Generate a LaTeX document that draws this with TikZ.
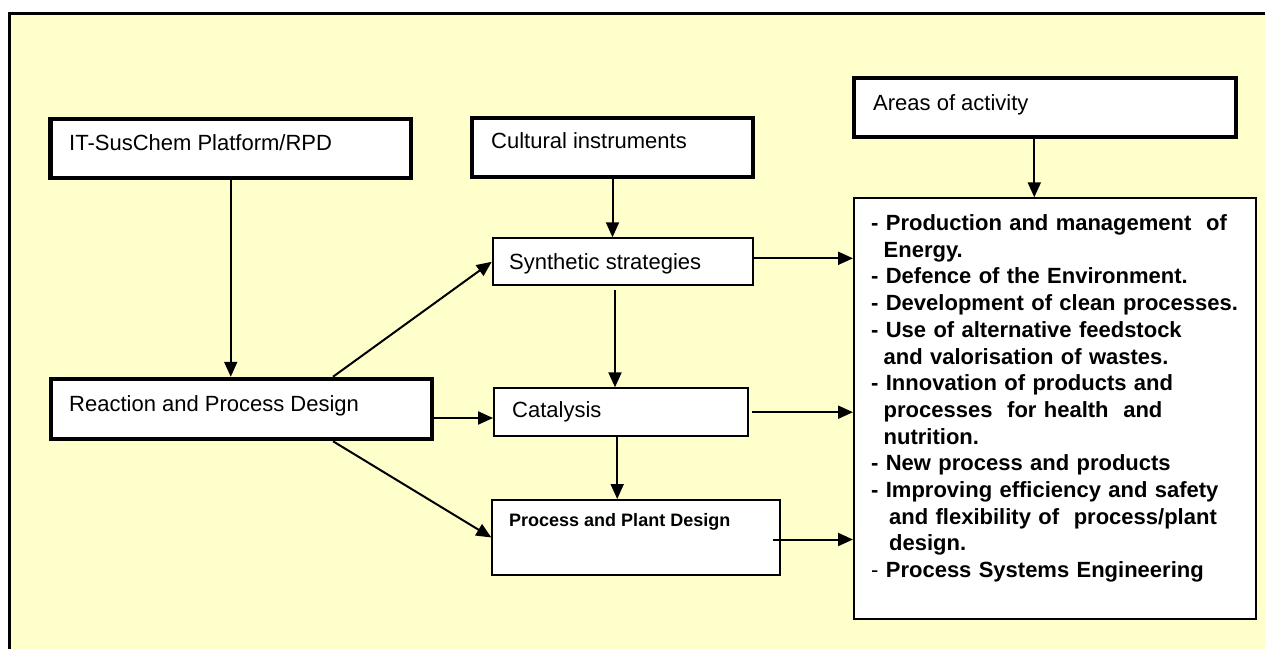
\documentclass[tikz,border=0pt]{standalone}
\usepackage{fontspec}
\setmainfont{Liberation Sans}
\usetikzlibrary{arrows.meta}
\definecolor{paper}{HTML}{FFFFCC}
\begin{document}
\begin{tikzpicture}[x=1pt,y=-1pt,
  heavybox/.style={draw=black, fill=white, line width=4.5pt, inner sep=0pt},
  lightbox/.style={draw=black, fill=white, line width=2pt, inner sep=0pt},
  caption/.style={anchor=base west, inner sep=0pt, font=\fontsize{22}{26}\selectfont},
  link/.style={line width=2pt, -{Triangle[length=15pt,width=13pt]}},
]
\useasboundingbox (0,0) rectangle (1265,648);
% pale yellow sheet, running off the right and bottom edges
\begin{scope}
  \clip (0,0) rectangle (1265,648);
  \draw[line width=3pt, fill=paper] (9.5,13) rectangle (1285,670);
\end{scope}

% boxes
\node[heavybox, minimum width=360.5pt, minimum height=59pt] (plat)  at (230.75,148.5) {};
\node[heavybox, minimum width=281pt,   minimum height=59pt] (cult)  at (612.5,147.5) {};
\node[heavybox, minimum width=382pt,   minimum height=59pt] (areas) at (1045,107.5) {};
\node[heavybox, minimum width=381.2pt, minimum height=60pt] (react) at (241.4,409) {};
\node[lightbox, minimum width=260.6pt, minimum height=47pt] (synth) at (623,261.8) {};
\node[lightbox, minimum width=254.3pt, minimum height=47.7pt] (cat) at (621.2,412.2) {};
\node[lightbox, minimum width=287.7pt, minimum height=75pt] (ppd)   at (636.2,537.5) {};
\node[lightbox, minimum width=402pt,   minimum height=421pt] (list) at (1055,408.8) {};

% connectors
\draw[link] (plat.south) -- (plat.south |- react.north);
\draw[link] (cult.south) -- (cult.south |- synth.north);
\coordinate (sc) at ([xshift=-8pt,yshift=-4pt]synth.south);
\draw[link] (sc) -- (sc |- cat.north);
\coordinate (cc) at ([xshift=-4pt]cat.south);
\draw[link] (cc) -- (cc |- ppd.north);
\coordinate (ac) at ([xshift=-10.7pt]areas.south);
\draw[link] (ac) -- (ac |- list.north);

\coordinate (r1) at ([xshift=91.6pt]react.north);
\draw[link] (r1) -- (synth.west);
\coordinate (r2) at ([yshift=-9pt]react.east);
\draw[link] (r2) -- (r2 -| cat.west);
\coordinate (r3) at ([xshift=91.6pt]react.south);
\draw[link] (r3) -- (ppd.west);

\coordinate (s1) at ([yshift=3.5pt]synth.east);
\draw[link] (s1) -- (s1 -| list.west);
\coordinate (c1) at ([xshift=3pt]cat.east);
\draw[link] (c1) -- (c1 -| list.west);
\coordinate (p1) at ([xshift=-8pt,yshift=-2pt]ppd.east);
\draw[link] (p1) -- (p1 -| list.west);

% labels
\node[caption] (platT)  at (69,150)    {IT-SusChem Platform/RPD};
\node[caption] (cultT)  at (491,148)   {Cultural instruments};
\node[caption] (areasT) at (873,110)   {Areas of activity};
\node[caption] (reactT) at (69,411)    {Reaction and Process Design};
\node[caption] (synthT) at (509,269)   {Synthetic strategies};
\node[caption] (catT)   at (512,417.5) {Catalysis};
\node[anchor=base west, inner sep=0pt, font=\fontsize{18}{22}\selectfont\bfseries] (ppdT) at (509,526) {Process and Plant Design};

\node[anchor=base west, inner sep=0pt, text width=385pt, align=left,
      font=\fontsize{22}{26.7}\selectfont\bfseries] (listT) at (871,230.5)
{- Production and management\ \ of\\
\hspace*{12.5pt}Energy.\\
- Defence of the Environment.\\
- Development of clean processes.\\
- Use of alternative feedstock\\
\hspace*{12.5pt}and valorisation of wastes.\\
- Innovation of products and\\
\hspace*{12.5pt}processes\ \ for health\ \ and\\
\hspace*{12.5pt}nutrition.\\
- New process and products\\
- Improving efficiency and safety\\
\hspace*{18pt}and flexibility of\ \ process/plant\\
\hspace*{18pt}design.\\
{\mdseries -} Process Systems Engineering};
\end{tikzpicture}
\end{document}
